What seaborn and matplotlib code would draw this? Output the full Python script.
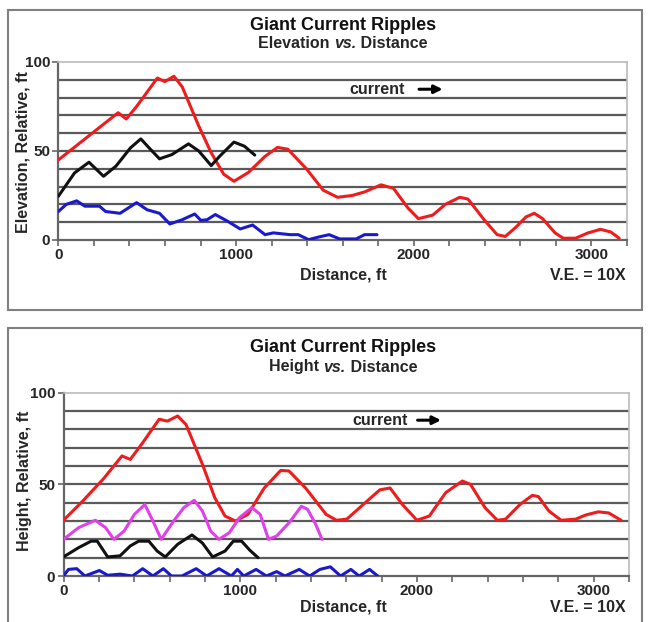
import pandas as pd
import seaborn as sns
import matplotlib.pyplot as plt
from matplotlib.patches import Rectangle
from matplotlib.ticker import MultipleLocator, FixedLocator

# ---- top panel: elevation vs distance ----
elev_red_x = [0, 336, 382, 440, 557, 599, 650, 697, 790, 860, 930, 988, 1070, 1163, 1233, 1291,
              1396, 1490, 1571, 1653, 1723, 1816, 1886, 1967, 2026, 2107, 2177, 2259, 2305, 2399,
              2469, 2515, 2573, 2632, 2678, 2725, 2795, 2841, 2911, 2981, 3051, 3109, 3156]
elev_red_y = [45, 71.5, 68, 75, 91, 89, 92, 86, 64, 49, 37, 33, 38, 47, 52, 51,
              40, 28, 24, 25, 27, 31, 29, 18, 12, 14, 20, 24, 23, 11,
              3, 2, 7, 13, 15, 12, 4, 1, 1, 4, 6, 4.5, 1]
elev_black_x = [0, 91, 172, 254, 324, 406, 464, 510, 569, 639, 732, 790, 860, 907, 988, 1047, 1105]
elev_black_y = [24.6, 37.7, 43.7, 35.8, 41.5, 51.8, 56.8, 51.8, 45.6, 48, 54, 50, 41.8, 47, 55, 52.7, 47.7]
elev_blue_x = [0, 44, 103, 149, 231, 266, 347, 440, 499, 569, 627, 697, 767, 802, 837, 883, 953,
               1023, 1093, 1163, 1210, 1303, 1350, 1408, 1466, 1524, 1583, 1676, 1723, 1793]
elev_blue_y = [16, 20, 22, 19, 19, 16, 15, 21, 17, 15, 9, 11.4, 14.6, 11, 11.4, 14.3, 10.5,
               6.2, 8.4, 3, 4, 3, 3, 0.2, 1.7, 3, 0.6, 0.6, 3, 3]

# ---- bottom panel: height vs distance ----
hgt_red_x = [0, 110, 226, 331, 378, 448, 541, 588, 646, 693, 786, 856, 914, 973, 1043, 1136, 1229,
             1276, 1370, 1486, 1545, 1603, 1696, 1790, 1848, 1918, 2000, 2070, 2163, 2257, 2303,
             2385, 2455, 2501, 2583, 2653, 2688, 2746, 2816, 2898, 2956, 3026, 3085, 3155]
hgt_red_y = [30.4, 41, 53, 65.5, 63.6, 72.7, 85.5, 84.5, 87.3, 82.7, 61, 42.7, 32.7, 30, 33.6, 48, 57.6,
             57.3, 48, 33.6, 30.4, 31, 39, 47, 48, 39, 30.4, 32.7, 45.5, 51.8, 50,
             37.3, 30.4, 31, 39, 44, 43.3, 35.5, 30.4, 31, 33.3, 35, 34.4, 30.4]
hgt_magenta_x = [0, 86, 180, 238, 285, 343, 401, 460, 506, 553, 623, 681, 740, 786, 833, 880, 938,
                 996, 1066, 1113, 1160, 1206, 1276, 1346, 1381, 1428, 1463]
hgt_magenta_y = [20, 26.4, 30.4, 26.4, 20, 24.5, 33.6, 39, 30, 20, 30, 37.3, 41.3, 35.5, 24.5, 20, 23.6,
                 31.8, 37.3, 33.6, 20, 21.8, 29, 38, 36.4, 28, 20]
hgt_black_x = [0, 86, 156, 191, 250, 320, 378, 425, 483, 530, 576, 646, 727, 786, 844, 914, 961,
               1008, 1055, 1101]
hgt_black_y = [10.4, 15.5, 19, 19, 10.4, 11, 16.4, 19, 19, 13.6, 10.4, 17.3, 22.4, 18, 10.4, 13.6, 19,
               19, 14, 10]
hgt_blue_x = [0, 28, 75, 121, 203, 250, 320, 390, 448, 506, 565, 611, 670, 751, 810, 880, 950, 984,
              1020, 1090, 1148, 1206, 1253, 1334, 1393, 1451, 1510, 1568, 1626, 1673, 1732, 1778]
hgt_blue_y = [0, 3.6, 4, 0, 3, 0.4, 1, 0, 4, 0, 4, 0, 0, 4, 0, 4, 0, 3.6,
              0, 3.6, 0, 2.4, 0, 3.6, 0, 3.6, 5, 0, 3.6, 0, 3.6, 0]

RED = '#ee1c1c'
BLACK = '#111111'
BLUE = '#1a1acc'
MAGENTA = '#e040e8'

sns.set_theme(style="white")
plt.rcParams['font.family'] = ['Liberation Sans', 'DejaVu Sans']
plt.rcParams['font.weight'] = 'bold'

W, H = 649, 622
fig = plt.figure(figsize=(6.49, 6.22), dpi=100)


def fx(px):
    return px / W


def fy(py):
    return 1 - py / H


def frame(top, bottom):
    fig.patches.append(Rectangle((fx(7.5), fy(bottom)), fx(634), (bottom - top) / H,
                                 transform=fig.transFigure, fill=False,
                                 ec='#808080', lw=1.5, zorder=0))


def title_block(cx, y1, y2, word1, word2):
    fig.text(fx(cx), fy(y1), "Giant Current Ripples", ha='center', va='center',
             fontsize=13, fontweight='bold', color='#111111')
    parts = [fig.text(0, fy(y2), word1 + ' ', ha='left', va='center', fontsize=11.5, fontweight='bold'),
             fig.text(0, fy(y2), 'vs.', ha='left', va='center', fontsize=11.5, fontweight='bold',
                      style='italic'),
             fig.text(0, fy(y2), ' ' + word2, ha='left', va='center', fontsize=11.5, fontweight='bold')]
    return parts


def panel(rect, series, ylabel, ylab_xy, dist_y, cur_x, arrow_x, cur_y):
    ax = fig.add_axes(rect)
    for xs, ys, c in series:
        df = pd.DataFrame({'x': xs, 'y': ys})
        sns.lineplot(data=df, x='x', y='y', color=c, lw=2.2, ax=ax, sort=False, zorder=3)
    ax.set_xlim(0, 3200)
    ax.set_ylim(0, 100)
    for g in range(10, 100, 10):
        ax.axhline(g, color='#5a5a5a', lw=1.6, zorder=1)
    ax.xaxis.set_major_locator(FixedLocator([0, 1000, 2000, 3000]))
    ax.xaxis.set_minor_locator(MultipleLocator(200))
    ax.yaxis.set_major_locator(FixedLocator([0, 50, 100]))
    ax.tick_params(axis='both', which='both', direction='out', length=4, width=1.2,
                   color='#666666', labelsize=11, pad=2)
    ax.tick_params(axis='y', which='both', left=True)
    ax.tick_params(axis='x', which='both', bottom=True)
    for lab in ax.get_xticklabels() + ax.get_yticklabels():
        lab.set_fontweight('bold')
    for s in ['left', 'bottom']:
        ax.spines[s].set_color('#666666')
        ax.spines[s].set_linewidth(1.6)
    for s in ['top', 'right']:
        ax.spines[s].set_color('#bbbbbb')
        ax.spines[s].set_linewidth(1.2)
    ax.set_xlabel('')
    ax.set_ylabel('')
    ax.text(cur_x, cur_y, 'current', ha='left', va='center', fontsize=11.5, fontweight='bold', zorder=4)
    ax.annotate('', xy=(arrow_x[1], cur_y), xytext=(arrow_x[0], cur_y),
                arrowprops=dict(arrowstyle='-|>', color='black', lw=2.2, mutation_scale=12), zorder=4)
    fig.text(fx(ylab_xy[0]), fy(ylab_xy[1]), ylabel, rotation=90, ha='center', va='center',
             fontsize=11.5, fontweight='bold')
    fig.text(fx(343), fy(dist_y), 'Distance, ft', ha='center', va='center', fontsize=11.5, fontweight='bold')
    fig.text(fx(626), fy(dist_y + 1), 'V.E. = 10X', ha='right', va='center', fontsize=11.5, fontweight='bold')
    return ax


# top panel
frame(9.5, 310)
panel([fx(58.4), fy(240), fx(627) - fx(58.4), 178 / H],
      [(elev_red_x, elev_red_y, RED), (elev_black_x, elev_black_y, BLACK), (elev_blue_x, elev_blue_y, BLUE)],
      'Elevation, Relative, ft', (23, 152), 275, 1637, (2014, 2178), 84.7)
sub1 = title_block(343, 26, 44, 'Elevation', 'Distance')

# bottom panel
frame(328, 640)
panel([fx(63.5), fy(576), fx(629) - fx(63.5), 183.3 / H],
      [(hgt_red_x, hgt_red_y, RED), (hgt_magenta_x, hgt_magenta_y, MAGENTA),
       (hgt_black_x, hgt_black_y, BLACK), (hgt_blue_x, hgt_blue_y, BLUE)],
      'Height, Relative, ft', (25, 481), 607, 1633, (1988, 2152), 85)
sub2 = title_block(343, 347, 367, 'Height', 'Distance')

# center the mixed-style subtitles
fig.canvas.draw()
r = fig.canvas.get_renderer()
for parts in (sub1, sub2):
    widths = [p.get_window_extent(r).width for p in parts]
    x = 343 - sum(widths) / 2
    for p, w in zip(parts, widths):
        p.set_x(fx(x))
        x += w

fig.savefig('out.png', dpi=100)
